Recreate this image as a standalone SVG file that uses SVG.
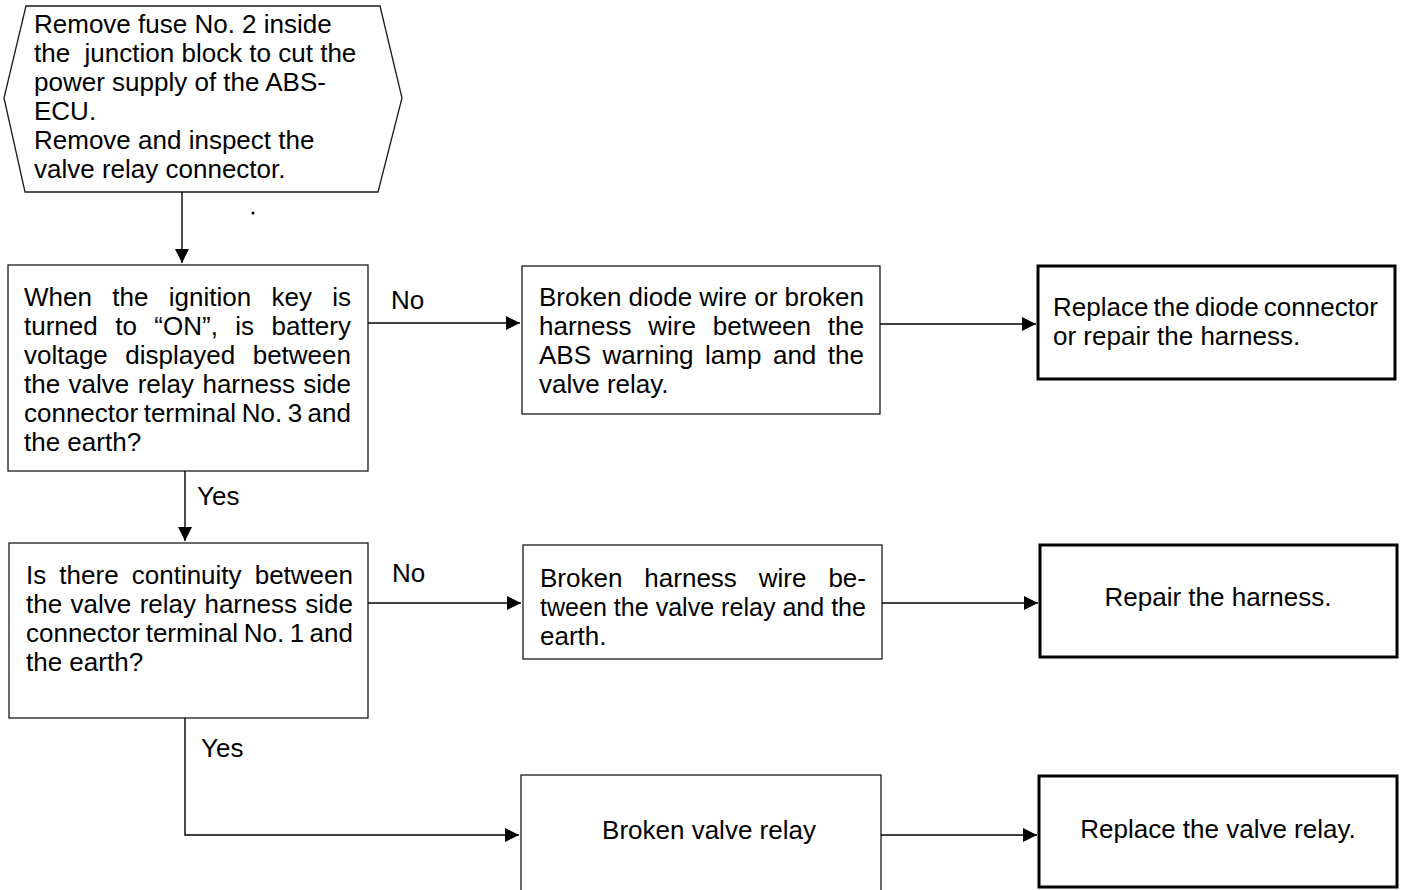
<svg xmlns="http://www.w3.org/2000/svg" width="1404" height="890" viewBox="0 0 1404 890">
<defs>
<style>
text{font-family:"Liberation Sans",Arial,Helvetica,sans-serif;font-size:26px;fill:#000}
.thin{fill:#fff;stroke:#1a1a1a;stroke-width:1.3}
.thick{fill:#fff;stroke:#000;stroke-width:3}
.conn{fill:none;stroke:#000;stroke-width:1.4}
.mid{text-anchor:middle}
</style>
<marker id="ah" markerUnits="userSpaceOnUse" markerWidth="16" markerHeight="14" refX="14" refY="7" orient="auto">
<path d="M0,0 L14,7 L0,14 z" fill="#000"/>
</marker>
</defs>
<rect width="1404" height="890" fill="#fff"/>

<g id="start">
<polygon class="thin" points="26,6 380,6 402,98 378,192 25,192 4,98"/>
<text x="34" y="33">Remove fuse No. 2 inside</text>
<text x="34" y="62" xml:space="preserve">the  junction block to cut the</text>
<text x="34" y="91">power supply of the ABS-</text>
<text x="34" y="120">ECU.</text>
<text x="34" y="149">Remove and inspect the</text>
<text x="34" y="178">valve relay connector.</text>
</g>

<g id="q1">
<rect class="thin" x="8" y="265" width="360" height="206"/>
<text x="24" y="306" word-spacing="13.1" textLength="327" lengthAdjust="spacing">When the ignition key is</text>
<text x="24" y="335" word-spacing="10.2" textLength="327" lengthAdjust="spacing">turned to “ON”, is battery</text>
<text x="24" y="364" word-spacing="10.3" textLength="327" lengthAdjust="spacing">voltage displayed between</text>
<text x="24" y="393" word-spacing="1.2" textLength="327" lengthAdjust="spacing">the valve relay harness side</text>
<text x="24" y="422" word-spacing="-1.7" textLength="327" lengthAdjust="spacing">connector terminal No. 3 and</text>
<text x="24" y="451">the earth?</text>
</g>

<g id="r1">
<rect class="thin" x="522" y="266" width="358" height="148"/>
<text x="539" y="306" textLength="325" lengthAdjust="spacing">Broken diode wire or broken</text>
<text x="539" y="335" word-spacing="9.6" textLength="325" lengthAdjust="spacing">harness wire between the</text>
<text x="539" y="364" word-spacing="4.3" textLength="325" lengthAdjust="spacing">ABS warning lamp and the</text>
<text x="539" y="393">valve relay.</text>
</g>

<g id="a1">
<rect class="thick" x="1038" y="266" width="357" height="113"/>
<text x="1053" y="316" word-spacing="-2" textLength="325" lengthAdjust="spacing">Replace the diode connector</text>
<text x="1053" y="345">or repair the harness.</text>
</g>

<g id="q2">
<rect class="thin" x="9" y="543" width="359" height="175"/>
<text x="26" y="584" word-spacing="5.9" textLength="327" lengthAdjust="spacing">Is there continuity between</text>
<text x="26" y="613" word-spacing="1.2" textLength="327" lengthAdjust="spacing">the valve relay harness side</text>
<text x="26" y="642" word-spacing="-1.7" textLength="327" lengthAdjust="spacing">connector terminal No. 1 and</text>
<text x="26" y="671">the earth?</text>
</g>

<g id="r2">
<rect class="thin" x="523" y="545" width="359" height="114"/>
<text x="540" y="587" word-spacing="14.7" textLength="326" lengthAdjust="spacing">Broken harness wire be-</text>
<text x="540" y="616" textLength="326" lengthAdjust="spacingAndGlyphs">tween the valve relay and the</text>
<text x="540" y="645">earth.</text>
</g>

<g id="a2">
<rect class="thick" x="1040" y="545" width="357" height="112"/>
<text class="mid" x="1218" y="606">Repair the harness.</text>
</g>

<g id="r3">
<rect class="thin" x="521" y="775" width="360" height="125"/>
<text class="mid" x="709" y="839">Broken valve relay</text>
</g>

<g id="a3">
<rect class="thick" x="1039" y="776" width="358" height="111"/>
<text class="mid" x="1218" y="838">Replace the valve relay.</text>
</g>

<g id="connectors">
<path class="conn" d="M182,192 V263" marker-end="url(#ah)"/>
<path class="conn" d="M368,323 H520" marker-end="url(#ah)"/>
<path class="conn" d="M880,324 H1036" marker-end="url(#ah)"/>
<path class="conn" d="M185,471 V541" marker-end="url(#ah)"/>
<path class="conn" d="M368,603 H521" marker-end="url(#ah)"/>
<path class="conn" d="M882,603 H1038" marker-end="url(#ah)"/>
<path class="conn" d="M185,718 V835 H519" marker-end="url(#ah)"/>
<path class="conn" d="M881,835 H1037" marker-end="url(#ah)"/>
<text x="391" y="309">No</text>
<text x="197" y="505">Yes</text>
<text x="392" y="582">No</text>
<text x="201" y="757">Yes</text>
</g>

<circle cx="253" cy="213" r="1.5" fill="#000"/>
</svg>
